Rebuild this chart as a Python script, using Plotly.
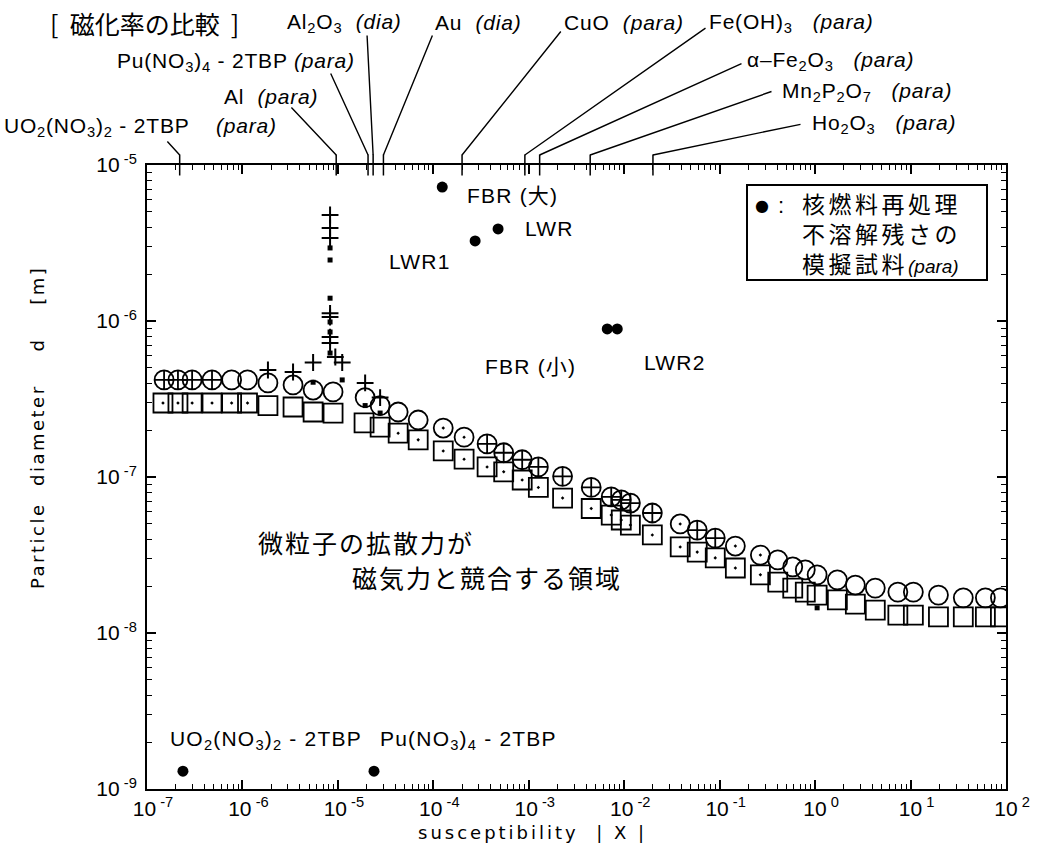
import math
import plotly.graph_objects as go

# ------------------------------------------------------------------ data
# susceptibility |X| (x) and particle diameter d [m] (y) for each marker family

# open circle with cross
cc_sus = [1.51e-7, 2.11e-7, 2.97e-7, 4.80e-7, 3.66e-4, 5.46e-4, 8.53e-4,
          1.26e-3, 2.26e-3, 4.51e-3, 7.31e-3, 9.31e-3, 1.16e-2, 1.97e-2,
          5.82e-2, 8.99e-2]
cc_d = [4.19e-7, 4.19e-7, 4.19e-7, 4.19e-7, 1.63e-7, 1.43e-7, 1.29e-7,
        1.16e-7, 1.01e-7, 8.57e-8, 7.45e-8, 7.13e-8, 6.81e-8, 5.88e-8,
        4.57e-8, 4.06e-8]

# plain open circle
co_sus = [7.7e-7, 1.13e-6, 1.85e-6, 3.39e-6, 5.50e-6, 8.9e-6, 1.93e-5,
          2.77e-5, 4.28e-5, 6.94e-5, 0.406, 0.583, 0.789, 1.05, 1.71, 2.64,
          4.27, 7.36, 10.7, 19.6, 35.7, 60.8, 87.4]
co_d = [4.19e-7, 4.19e-7, 4.01e-7, 3.89e-7, 3.61e-7, 3.51e-7, 3.23e-7,
        2.87e-7, 2.61e-7, 2.32e-7, 2.94e-8, 2.65e-8, 2.54e-8, 2.36e-8,
        2.19e-8, 2.03e-8, 1.94e-8, 1.83e-8, 1.83e-8, 1.75e-8, 1.68e-8,
        1.68e-8, 1.68e-8]

# open circle with dot
cd_sus = [1.27e-4, 2.10e-4, 3.86e-2, 0.146, 0.267]
cd_d = [2.06e-7, 1.80e-7, 5.00e-8, 3.61e-8, 3.16e-8]

# open square with dot
sd_sus = [1.47e-7, 2.11e-7, 2.97e-7, 4.80e-7, 7.7e-7, 1.13e-6, 4.28e-5,
          6.94e-5, 1.27e-4, 2.10e-4, 3.66e-4, 5.46e-4, 8.53e-4, 1.26e-3,
          2.26e-3, 4.51e-3, 7.31e-3, 9.31e-3, 1.16e-2, 1.97e-2, 3.86e-2,
          5.82e-2, 8.99e-2, 0.146, 0.267]
sd_d = [2.98e-7, 2.98e-7, 2.98e-7, 2.98e-7, 2.98e-7, 2.98e-7, 1.91e-7,
        1.73e-7, 1.47e-7, 1.30e-7, 1.16e-7, 1.08e-7, 9.57e-8, 8.57e-8,
        7.33e-8, 6.28e-8, 5.70e-8, 5.30e-8, 4.92e-8, 4.25e-8, 3.56e-8,
        3.30e-8, 3.03e-8, 2.61e-8, 2.36e-8]

# plain open square
so_sus = [1.85e-6, 3.39e-6, 5.50e-6, 8.9e-6, 1.88e-5, 2.77e-5, 0.406,
          0.583, 0.789, 1.05, 1.71, 2.64, 4.27, 7.36, 10.7, 19.6, 35.7,
          60.8, 87.4]
so_d = [2.87e-7, 2.81e-7, 2.61e-7, 2.57e-7, 2.22e-7, 2.09e-7, 2.12e-8,
        1.94e-8, 1.83e-8, 1.75e-8, 1.63e-8, 1.53e-8, 1.40e-8, 1.30e-8,
        1.30e-8, 1.27e-8, 1.27e-8, 1.27e-8, 1.27e-8]

# plus signs
pl_sus = [8.28e-6, 8.28e-6, 8.28e-6, 8.28e-6, 8.28e-6, 8.28e-6, 8.28e-6,
          5.50e-6, 1.11e-5, 9.4e-6, 1.85e-6, 3.39e-6, 1.93e-5, 2.77e-5]
pl_d = [4.78e-6, 3.95e-6, 3.40e-6, 1.12e-6, 1.06e-6, 7.89e-7, 7.23e-7,
        5.42e-7, 5.42e-7, 5.88e-7, 4.85e-7, 4.71e-7, 4.01e-7, 3.23e-7]

# small filled squares
fs_sus = [8.28e-6, 8.28e-6, 8.28e-6, 8.28e-6, 8.28e-6, 8.28e-6, 1.11e-5,
          5.50e-6, 1.93e-5, 2.77e-5, 1.05]
fs_d = [2.94e-6, 2.46e-6, 1.40e-6, 9.86e-7, 8.50e-7, 6.23e-7, 4.19e-7,
        4.05e-7, 2.87e-7, 2.57e-7, 1.45e-8]

# simulated insoluble residues of nuclear fuel reprocessing (filled circles)
res_names = ["FBR (大)", "LWR", "LWR1", "FBR (小)", "LWR2",
             "UO<sub>2</sub>(NO<sub>3</sub>)<sub>2</sub> - 2TBP",
             "Pu(NO<sub>3</sub>)<sub>4</sub> - 2TBP"]
res_sus = [1.24e-4, 4.77e-4, 2.74e-4, 6.64e-3, 8.45e-3, 2.38e-7, 2.39e-5]
res_d = [7.22e-6, 3.89e-6, 3.26e-6, 8.89e-7, 8.89e-7, 1.30e-9, 1.30e-9]

# reference susceptibilities marked on the top axis
cmp_names = ["UO<sub>2</sub>(NO<sub>3</sub>)<sub>2</sub> - 2TBP\u00a0\u00a0\u00a0\u00a0<i>(para)</i>",
             "Al\u00a0\u00a0<i>(para)</i>",
             "Pu(NO<sub>3</sub>)<sub>4</sub> - 2TBP <i>(para)</i>",
             "Al<sub>2</sub>O<sub>3</sub>\u00a0\u00a0<i>(dia)</i>",
             "Au\u00a0\u00a0<i>(dia)</i>",
             "CuO\u00a0\u00a0<i>(para)</i>",
             "Fe(OH)<sub>3</sub>\u00a0\u00a0\u00a0<i>(para)</i>",
             "α\u2013Fe<sub>2</sub>O<sub>3</sub>\u00a0\u00a0\u00a0<i>(para)</i>",
             "Mn<sub>2</sub>P<sub>2</sub>O<sub>7</sub>\u00a0\u00a0\u00a0<i>(para)</i>",
             "Ho<sub>2</sub>O<sub>3</sub>\u00a0\u00a0\u00a0<i>(para)</i>"]
cmp_sus = [2.2e-7, 9.6e-6, 2.07e-5, 2.34e-5, 3.0e-5, 2.0e-4, 9.1e-4,
           1.3e-3, 4.4e-3, 2.0e-2]

# axis ticks
x_major = [10.0 ** k for k in range(-7, 3)]
y_major = [10.0 ** k for k in range(-9, -4)]
x_minor = [m * 10.0 ** k for k in range(-7, 2) for m in range(2, 10)]
y_minor = [m * 10.0 ** k for k in range(-9, -5) for m in range(2, 10)]


def power_label(k):
    return f"10<sup>\u00a0{k}</sup>"


x_major_text = [power_label(k) for k in range(-7, 3)]
y_major_text = [power_label(k) for k in range(-9, -4)]

# ---------------------------------------------------------------- layout
FIG_W, FIG_H = 1046, 854
M_L, M_R, M_T, M_B = 147, 40, 165, 65
PLOT_W = FIG_W - M_L - M_R
PLOT_H = FIG_H - M_T - M_B
X_LOG = (-7, 2)

LAT = "Liberation Sans, Arial, Noto Sans CJK JP"
CJK = "Noto Sans CJK JP"


def paper_x(px):
    return (px - M_L) / PLOT_W


def paper_y(py):
    return (FIG_H - M_B - py) / PLOT_H


def sus_px(v):
    return M_L + (math.log10(v) - X_LOG[0]) / (X_LOG[1] - X_LOG[0]) * PLOT_W


def spaced(text, px):
    """Wrap text in a span with extra letter spacing."""
    return f"<span style='letter-spacing:{px}px'>{text}</span>"


fig = go.Figure()

line = dict(color="black", width=1.8)
fig.add_trace(go.Scatter(x=cc_sus, y=cc_d, mode="markers",
                         marker=dict(symbol="circle-cross-open", size=19, color="black", line=line)))
fig.add_trace(go.Scatter(x=co_sus, y=co_d, mode="markers",
                         marker=dict(symbol="circle-open", size=19, color="black", line=line)))
fig.add_trace(go.Scatter(x=cd_sus, y=cd_d, mode="markers",
                         marker=dict(symbol="circle-open-dot", size=19, color="black", line=line)))
fig.add_trace(go.Scatter(x=sd_sus, y=sd_d, mode="markers",
                         marker=dict(symbol="square-open-dot", size=19, color="black", line=line)))
fig.add_trace(go.Scatter(x=so_sus, y=so_d, mode="markers",
                         marker=dict(symbol="square-open", size=19, color="black", line=line)))
fig.add_trace(go.Scatter(x=pl_sus, y=pl_d, mode="markers",
                         marker=dict(symbol="cross-thin-open", size=12, color="black",
                                     line=dict(color="black", width=2))))
fig.add_trace(go.Scatter(x=fs_sus, y=fs_d, mode="markers",
                         marker=dict(symbol="square", size=5, color="black")))
fig.add_trace(go.Scatter(x=res_sus, y=res_d, mode="markers",
                         marker=dict(symbol="circle", size=11, color="black")))
# short ticks crossing the top frame at each reference susceptibility
fig.add_trace(go.Scatter(x=cmp_sus, y=[1e-5] * len(cmp_sus), mode="markers",
                         cliponaxis=False,
                         marker=dict(symbol="line-ns", size=15, color="black",
                                     line=dict(color="black", width=1.5))))

# labels beside the filled circles: (xanchor, x shift, y shift)
res_label_pos = [("left", 23, -8), ("left", 25, 0), ("right", -22, -21),
                 ("right", -29, -38), ("left", 25, -34), ("left", -15, 31),
                 ("left", 4, 31)]
for name, xv, yv, (anc, dx, dy) in zip(res_names, res_sus, res_d, res_label_pos):
    fig.add_annotation(x=math.log10(xv), y=math.log10(yv), xref="x", yref="y",
                       text=spaced(name, 1.2), showarrow=False, xanchor=anc,
                       yanchor="middle", xshift=dx, yshift=dy,
                       font=dict(family=LAT, size=21, color="black"))

# names of the reference materials above the frame (left edge px, centre py)
cmp_label_pos = [(2, 127), (222, 97), (115, 62), (285, 23), (433, 23),
                 (562, 23), (707, 23), (745, 61), (780, 92), (810, 124)]
# where each leader line starts (px, py)
cmp_leader_tail = [(166, 140), (290, 106), (330, 72), (367, 34), (433, 34),
                   (562, 30), (707, 27), (743, 63), (773, 91), (802, 124)]
HEAD_PY = 155
for name, v, (lx, ly), (tx, ty) in zip(cmp_names, cmp_sus, cmp_label_pos, cmp_leader_tail):
    fig.add_annotation(x=paper_x(lx), y=paper_y(ly), xref="paper", yref="paper",
                       text=spaced(name, 0.8), showarrow=False, xanchor="left",
                       yanchor="middle", font=dict(family=LAT, size=21, color="black"))
    hx = sus_px(v)
    fig.add_annotation(x=math.log10(v), y=paper_y(HEAD_PY), xref="x", yref="paper",
                       ax=tx - hx, ay=ty - HEAD_PY, axref="pixel", ayref="pixel",
                       text="", showarrow=True, arrowhead=0, arrowwidth=1.4,
                       arrowcolor="black", standoff=0, startstandoff=0)

fig.add_annotation(x=paper_x(48), y=paper_y(23), xref="paper", yref="paper",
                   text="[\u00a0\u00a0磁化率の比較\u00a0\u00a0]", showarrow=False, xanchor="left",
                   yanchor="middle", font=dict(family=CJK, size=25, color="black"))

# region caption
fig.add_annotation(x=paper_x(256), y=paper_y(542), xref="paper", yref="paper",
                   text=spaced("微粒子の拡散力が", 2), showarrow=False, xanchor="left",
                   yanchor="middle", font=dict(family=CJK, size=25, color="black"))
fig.add_annotation(x=paper_x(350), y=paper_y(577), xref="paper", yref="paper",
                   text=spaced("磁気力と競合する領域", 2), showarrow=False, xanchor="left",
                   yanchor="middle", font=dict(family=CJK, size=25, color="black"))

# key box
fig.add_shape(type="rect", xref="paper", yref="paper",
              x0=paper_x(747), x1=paper_x(987), y0=paper_y(280), y1=paper_y(185),
              line=dict(color="black", width=2), fillcolor="white", layer="above")
fig.add_annotation(x=paper_x(762), y=paper_y(205), xref="paper", yref="paper",
                   text="●", showarrow=False, xanchor="center", yanchor="middle",
                   font=dict(family="DejaVu Sans", size=16, color="black"))
fig.add_annotation(x=paper_x(781), y=paper_y(205), xref="paper", yref="paper",
                   text=":", showarrow=False, xanchor="center", yanchor="middle",
                   font=dict(family=LAT, size=22, color="black"))
fig.add_annotation(x=paper_x(800), y=paper_y(233), xref="paper", yref="paper",
                   text=spaced("核燃料再処理", 3.5) + "<br>" + spaced("不溶解残さの", 3.5)
                        + "<br>" + spaced("模擬試料", 3.5)
                        + "<i><span style='font-family:Liberation Sans;font-size:19px'>(para)</span></i>",
                   showarrow=False, xanchor="left", yanchor="middle", align="left",
                   font=dict(family=CJK, size=23, color="black"))

# axis titles
fig.add_annotation(x=paper_x(38), y=paper_y(428), xref="paper", yref="paper",
                   text=spaced("Particle\u00a0 diameter\u00a0\u00a0\u00a0 d\u00a0\u00a0\u00a0 [m]", 2.5),
                   textangle=-90, showarrow=False, xanchor="center", yanchor="middle",
                   font=dict(family="DejaVu Sans", size=18, color="black"))
fig.add_annotation(x=paper_x(532), y=paper_y(832), xref="paper", yref="paper",
                   text=spaced("susceptibility\u00a0\u00a0| X |", 3), showarrow=False,
                   xanchor="center", yanchor="middle",
                   font=dict(family="DejaVu Sans", size=18, color="black"))

axis_common = dict(
    type="log", ticks="inside", ticklen=9, tickwidth=1.5, tickcolor="black",
    showline=True, linewidth=2, linecolor="black", mirror="ticks",
    showgrid=False, zeroline=False,
    tickfont=dict(family=LAT, size=21, color="black"),
)
fig.update_xaxes(range=list(X_LOG), tickvals=x_major, ticktext=x_major_text,
                 minor=dict(tickvals=x_minor, ticks="inside", ticklen=5,
                            tickwidth=1.2, tickcolor="black", showgrid=False),
                 ticklabelshift=6, **axis_common)
fig.update_yaxes(range=[-9, -5], tickvals=y_major, ticktext=y_major_text,
                 minor=dict(tickvals=y_minor, ticks="inside", ticklen=5,
                            tickwidth=1.2, tickcolor="black", showgrid=False),
                 ticklabelstandoff=4, **axis_common)

fig.update_layout(
    width=FIG_W, height=FIG_H, autosize=False,
    margin=dict(l=M_L, r=M_R, t=M_T, b=M_B),
    paper_bgcolor="white", plot_bgcolor="white",
    showlegend=False,
)

fig.write_html("out.html")
